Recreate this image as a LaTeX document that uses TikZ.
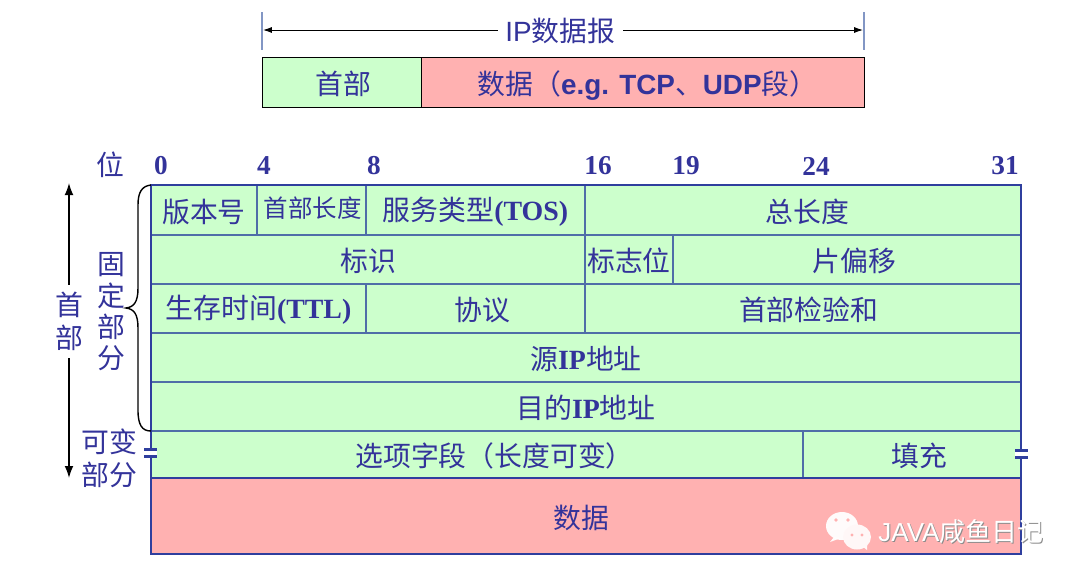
\documentclass[tikz,border=0pt]{standalone}
\usepackage{fontspec}
\usepackage{tikz}
\usetikzlibrary{arrows.meta}
\setmainfont{Liberation Serif}
\newfontfamily\cjk{Noto Sans CJK SC}
\newfontfamily\arialfont{Liberation Sans}
\newcommand{\tb}[1]{{\rmfamily\bfseries #1}}
\newcommand{\ab}[1]{{\arialfont\bfseries #1}}
\definecolor{inkblue}{HTML}{33339A}
\definecolor{rulegrey}{HTML}{4F6DA8}
\definecolor{rimblue}{HTML}{2F3F9E}
\definecolor{tickblue}{HTML}{8296C4}
\definecolor{headgreen}{HTML}{CCFFCC}
\definecolor{datared}{HTML}{FFB1B1}
\tikzset{
  lab/.style={text=inkblue,font=\cjk\fontsize{19.8}{24}\selectfont,inner sep=0pt},
  celltxt/.style={lab,midway,yshift=-1.2pt},
  bitno/.style={text=inkblue,font=\rmfamily\bfseries\fontsize{19.4}{24}\selectfont,inner sep=0pt},
  field/.style={draw=rulegrey,line width=1.1pt,fill=headgreen},
  tick/.style={draw=tickblue,line width=.8pt},
  brk/.style={draw=rimblue,line width=2pt},
  wm/.style={font=\cjk\fontsize{18.5}{22}\selectfont,inner sep=0pt,text=white},
}
\begin{document}
\begin{tikzpicture}[x=.025cm,y=-.025cm,line width=.7pt]
\useasboundingbox (0,0) rectangle (1080,581);
% datagram bar
\coordinate (L) at (263,30);\coordinate (R) at (863,30);
\draw[tick] (262,12)--(262,50);\draw[tick] (864,12)--(864,50);
\draw[{Latex[length=2.2mm,width=1.5mm]}-{Latex[length=2.2mm,width=1.5mm]}] (L)--(R) node[midway,lab,fill=white,inner xsep=5.5pt,inner ysep=2pt,xshift=-2pt,yshift=-.5pt] (ipdg) {{\arialfont IP}数据报};
\draw[fill=headgreen] (262,57) rectangle (421,107) node[celltxt,xshift=1.5pt] (hd) {首部};
\draw[fill=datared] (421,57) rectangle (864,107) node[celltxt,xshift=3.5pt,yshift=-1pt] (dt) {数据（\ab{e.g. TCP}、\ab{UDP}段）};
% bit numbers
\node[lab] (wei) at (110,165) {位};
\node[bitno] (b0) at (161,166) {0};\node[bitno] (b4) at (264,166) {4};\node[bitno] (b8) at (374,166) {8};
\node[bitno] (b16) at (598,166) {16};\node[bitno] (b19) at (686,166) {19};
\node[bitno] (b24) at (816,166) {24};\node[bitno] (b31) at (1005,166) {31};
% header rows
\draw[field] (151,185) rectangle (257,235) node[celltxt] (ver) {版本号};
\draw[field] (257,185) rectangle (366,235) node[celltxt,font=\cjk\fontsize{17.4}{22}\selectfont,xshift=1pt,yshift=2.6pt] (ihl) {首部长度};
\draw[field] (366,185) rectangle (585,235) node[celltxt] (tos) {服务类型\tb{(TOS)}};
\draw[field] (585,185) rectangle (1021,235) node[celltxt,xshift=3pt] (len) {总长度};
\draw[field] (151,235) rectangle (585,284) node[celltxt] (ident) {标识};
\draw[field] (585,235) rectangle (673,284) node[celltxt] (flag) {标志位};
\draw[field] (673,235) rectangle (1021,284) node[celltxt,xshift=5.5pt] (off) {片偏移};
\draw[field] (151,284) rectangle (366,333) node[celltxt] (ttl) {生存时间\tb{(TTL)}};
\draw[field] (366,284) rectangle (585,333) node[celltxt,xshift=5pt] (proto) {协议};
\draw[field] (585,284) rectangle (1021,333) node[celltxt,xshift=4pt] (chk) {首部检验和};
\draw[field] (151,333) rectangle (1021,382) node[celltxt] (src) {源\tb{IP}地址};
\draw[field] (151,382) rectangle (1021,431) node[celltxt] (dst) {目的\tb{IP}地址};
\draw[field] (151,431) rectangle (803,478) node[celltxt,xshift=12.5pt] (opt) {选项字段（长度可变）};
\draw[field] (803,431) rectangle (1021,478) node[celltxt,xshift=5pt] (pad) {填充};
\draw[field,fill=datared] (151,478) rectangle (1021,554) node[celltxt,xshift=-3pt] (pay) {数据};
% outer rim
\draw[draw=rimblue,line width=1.5pt] (151,185) rectangle (1021,554);
\draw[draw=rimblue,line width=1.8pt] (151,478)--(1021,478);
% break marks
\fill[white] (144,450) rectangle (157,456);\fill[white] (1015,451) rectangle (1028,457);
\draw[brk] (144,449.5)--(157,449.5);\draw[brk] (144,456.5)--(157,456.5);
\draw[brk] (1015,450.5)--(1028,450.5);\draw[brk] (1015,457.5)--(1028,457.5);
% left labels
\coordinate (T) at (69,183);\coordinate (B) at (69,478);
\draw[{Latex[length=3mm,width=2.2mm]}-{Latex[length=3mm,width=2.2mm]},line width=1pt] (T)--(B) node[pos=.47,lab,fill=white,align=center,inner ysep=5pt,inner xsep=2pt,font=\cjk\fontsize{19.8}{23.5}\selectfont] (hdr) {首\\部};
\node[lab,align=center,font=\cjk\fontsize{19.8}{22.3}\selectfont] (fixed) at (111,312) {固\\定\\部\\分};
\node[lab,align=center,font=\cjk\fontsize{19.8}{23.5}\selectfont] (vari) at (109,458) {可变\\部分};
\draw[line width=1pt] (151,185) .. controls (142,186) and (138,192) .. (138,205) -- (138,288) .. controls (138,302) and (134,307) .. (126,308) .. controls (134,309) and (138,314) .. (138,328) -- (138,410) .. controls (138,425) and (142,431) .. (151,431);
% watermark
\fill[white,opacity=.95] (842,526) ellipse (16 and 14);\fill[white,opacity=.95] (834,537)--(830,542)--(841,538)--cycle;
\fill[white!90!datared] (857,537) ellipse (14 and 12.5);\fill[white!90!datared] (862,546)--(867,550)--(867,543)--cycle;
\fill[datared] (836,520) circle (1.8);\fill[datared] (848,520) circle (1.8);
\fill[datared] (852,535) circle (1.6);\fill[datared] (862,535) circle (1.6);
\node[wm,text=black!45] (wms) at (962,533) {{\arialfont JAVA}咸鱼日记};
\node[wm] (wmt) at (961,532) {{\arialfont JAVA}咸鱼日记};
\end{tikzpicture}
\end{document}
